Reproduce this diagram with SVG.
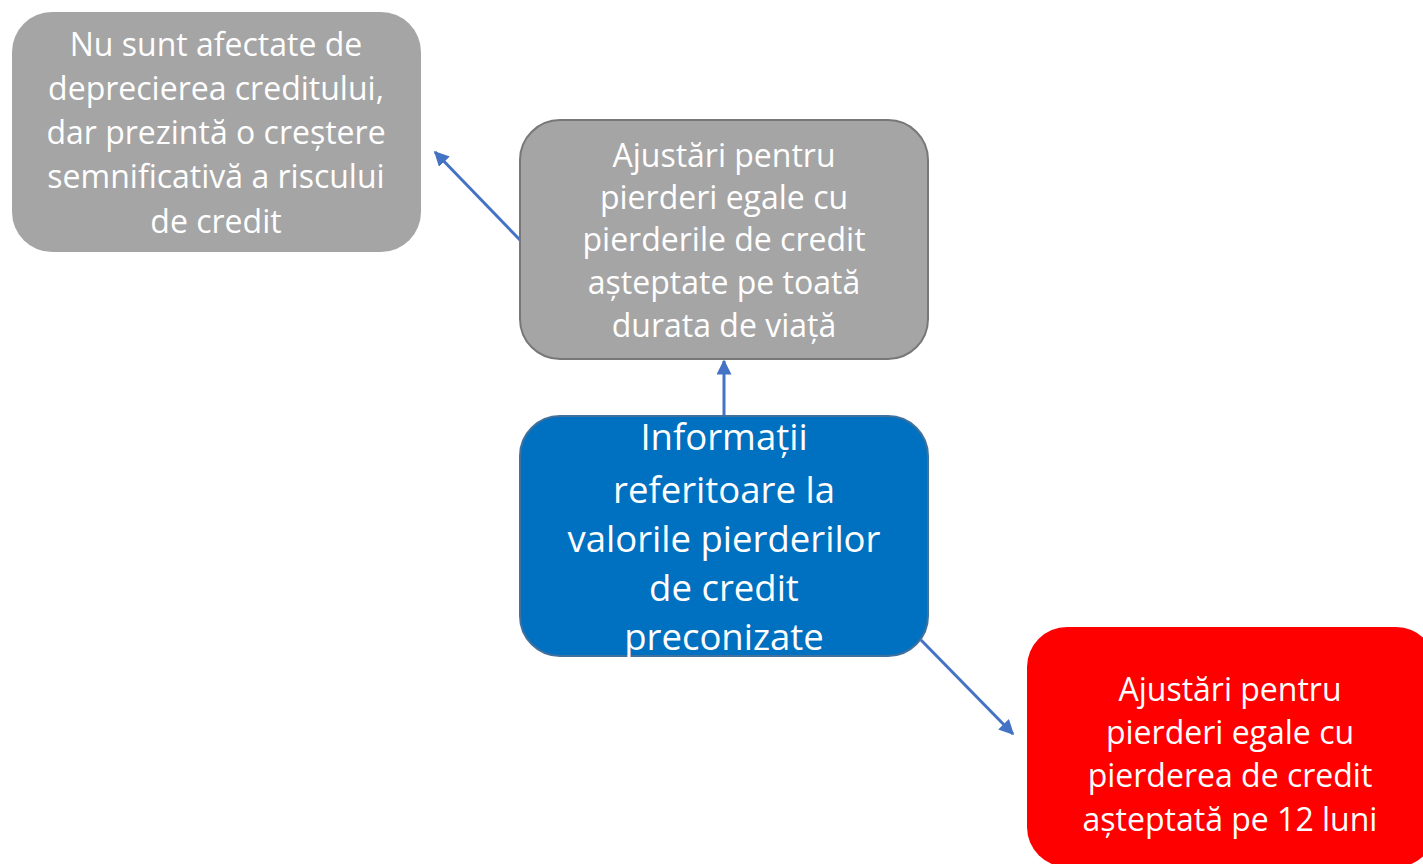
<svg xmlns="http://www.w3.org/2000/svg" width="1423" height="864" viewBox="0 0 1423 864">
<style>
text{font-family:"Open Sans","Noto Sans",sans-serif;fill:#fff;text-anchor:middle}
.s30{font-size:32px}
.s36{font-size:36.5px}
.edge{stroke:#4472C4;stroke-width:3;fill:none}
</style>
<defs>
<marker id="ah" viewBox="0 0 10 10" refX="9" refY="5" markerWidth="5" markerHeight="5" orient="auto" markerUnits="strokeWidth">
<path d="M0,0 L10,5 L0,10 z" fill="#4472C4"/>
</marker>
</defs>
<rect width="1423" height="864" fill="#fff"/>
<g id="connectors">
<line class="edge" x1="520" y1="240" x2="435" y2="152" marker-end="url(#ah)"/>
<line class="edge" x1="724" y1="416" x2="724" y2="361" marker-end="url(#ah)"/>
<line class="edge" x1="921" y1="640" x2="1013" y2="734" marker-end="url(#ah)"/>
</g>
<g id="node-top-left">
<rect x="12" y="12" width="409" height="240" rx="40" fill="#A5A5A5"/>
<text class="s30" x="216" y="56">Nu sunt afectate de</text>
<text class="s30" x="216" y="100">deprecierea creditului,</text>
<text class="s30" x="216" y="144">dar prezintă o creștere</text>
<text class="s30" x="216" y="188">semnificativă a riscului</text>
<text class="s30" x="216" y="233">de credit</text>
</g>
<g id="node-lifetime">
<rect x="520" y="120" width="408" height="239" rx="40" fill="#A5A5A5" stroke="#787878" stroke-width="2"/>
<text class="s30" x="724" y="167">Ajustări pentru</text>
<text class="s30" x="724" y="209">pierderi egale cu</text>
<text class="s30" x="724" y="251">pierderile de credit</text>
<text class="s30" x="724" y="294">așteptate pe toată</text>
<text class="s30" x="724" y="337">durata de viață</text>
</g>
<g id="node-info">
<rect x="520" y="416" width="408" height="240" rx="40" fill="#0070C0" stroke="#41719C" stroke-width="2"/>
<text class="s36" x="724" y="450">Informații</text>
<text class="s36" x="724" y="503">referitoare la</text>
<text class="s36" x="724" y="552">valorile pierderilor</text>
<text class="s36" x="724" y="601">de credit</text>
<text class="s36" x="724" y="650">preconizate</text>
</g>
<g id="node-12months">
<rect x="1027" y="627" width="409" height="240" rx="40" fill="#FF0000"/>
<text class="s30" x="1230" y="701">Ajustări pentru</text>
<text class="s30" x="1230" y="744">pierderi egale cu</text>
<text class="s30" x="1230" y="787">pierderea de credit</text>
<text class="s30" x="1230" y="831">așteptată pe 12 luni</text>
</g>
</svg>
